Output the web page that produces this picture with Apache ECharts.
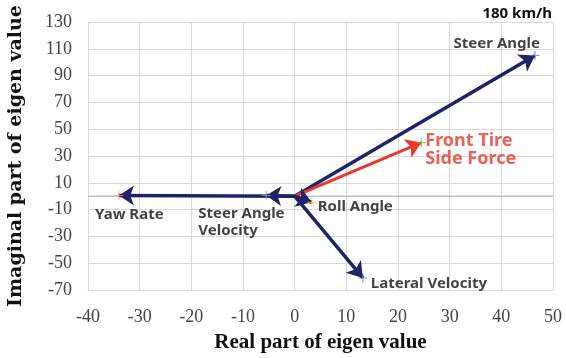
<!DOCTYPE html>
<html>
<head>
<meta charset="utf-8">
<script src="https://cdn.jsdelivr.net/npm/echarts@6/dist/echarts.min.js"></script>
<style>
  html, body { margin: 0; padding: 0; background: #fff; }
  #chart { width: 566px; height: 358px; }
</style>
</head>
<body>
<div id="chart"></div>
<script>
// Eigenvalues of each vibration mode at 180 km/h (real part, imaginary part)
const modeNames = ['Steer Angle', 'Front Tire\nSide Force', 'Yaw Rate', 'Steer Angle\nVelocity', 'Roll Angle', 'Lateral Velocity'];
const realParts = [46.5, 24.5, -34, -5.5, 3.3, 13.2];
const imagParts = [105, 40, 0.5, 0.5, -4.5, -61];

const xTicks = { min: -40, max: 50, step: 10 };
const yTicks = { min: -70, max: 130, step: 20 };

// Styling per mode: arrow colour, end marker colour, label colour and
// label anchor (pixel offset from the marker centre plus alignment)
const NAVY = '#1f2466';
const RED = '#e8392b';
const modeStyle = [
  { line: NAVY, mark: '#4a7fd0', text: '#111', dx: 5,   dy: -11.5, align: 'right' },
  { line: RED,  mark: '#6ab04c', text: RED,    dx: 4,   dy: 7,     align: 'left', big: true },
  { line: NAVY, mark: '#f0a060', text: '#111', dx: -24, dy: 19.5,  align: 'left' },
  { line: NAVY, mark: '#8aa0c0', text: '#111', dx: -68, dy: 26.5,  align: 'left' },
  { line: NAVY, mark: '#f2c94c', text: '#111', dx: 6,   dy: 5,     align: 'left' },
  { line: NAVY, mark: '#4a7fd0', text: '#111', dx: 8,   dy: 6,     align: 'left' }
];

const MARK_SIZE = 9;
const plus = 'path://M0,4.4h10v1.2h-10z M4.4,0h1.2v10h-1.2z';
const SANS = '"Noto Sans", "Liberation Sans", sans-serif';
const SERIF = '"Liberation Serif", serif';

const arrowData = modeNames.map((n, i) => ({
  coords: [[0, 0], [realParts[i], imagParts[i]]],
  lineStyle: { color: modeStyle[i].line, width: modeStyle[i].big ? 3 : 3.5, opacity: 1 }
}));

const pointData = modeNames.map((n, i) => {
  const s = modeStyle[i];
  return {
    name: n,
    value: [realParts[i], imagParts[i]],
    itemStyle: { color: s.mark },
    label: {
      show: true,
      formatter: '{b}',
      position: [s.dx + MARK_SIZE / 2, s.dy + MARK_SIZE / 2],
      align: s.align,
      verticalAlign: 'middle',
      color: s.text,
      fontFamily: SANS,
      fontWeight: 'bold',
      fontSize: s.big ? 18 : 15,
      lineHeight: s.big ? 18 : 17
    }
  };
});

const chart = echarts.init(document.getElementById('chart'), null, { renderer: 'canvas' });
chart.setOption({
  animation: false,
  backgroundColor: '#fff',
  grid: { left: 88, right: 13, top: 22, bottom: 68, containLabel: false, outerBoundsMode: 'none' },
  xAxis: {
    type: 'value',
    min: xTicks.min, max: xTicks.max, interval: xTicks.step,
    name: 'Real part of eigen value',
    nameLocation: 'middle',
    nameGap: 42,
    nameTextStyle: { fontFamily: SERIF, fontWeight: 'bold', fontSize: 21, color: '#111' },
    axisLine: { show: true, onZero: false, lineStyle: { color: '#d9d9d9' } },
    axisTick: { show: false },
    axisLabel: { fontFamily: SERIF, fontSize: 18, color: '#444', margin: 18 },
    splitLine: { show: true, lineStyle: { color: '#d9d9d9', width: 1 } }
  },
  yAxis: {
    type: 'value',
    min: yTicks.min, max: yTicks.max, interval: yTicks.step,
    name: 'Imaginal part of eigen value',
    nameLocation: 'middle',
    nameGap: 62,
    nameTextStyle: { fontFamily: '"DejaVu Serif", serif', fontWeight: 'bold', fontSize: 19, color: '#111' },
    axisLine: { show: false },
    axisTick: { show: false },
    axisLabel: { fontFamily: SERIF, fontSize: 18, color: '#444', margin: 16 },
    splitLine: { show: true, lineStyle: { color: '#d9d9d9', width: 1 } }
  },
  graphic: [
    {
      type: 'text',
      right: 14, top: 6,
      style: { text: '180 km/h', font: 'bold 15px "Noto Sans", sans-serif', fill: '#111' }
    }
  ],
  series: [
    {
      // real axis through the origin
      type: 'line',
      data: [[xTicks.min, 0], [xTicks.max, 0]],
      symbol: 'none',
      silent: true,
      lineStyle: { color: '#a6a6a6', width: 1 },
      z: 1
    },
    {
      type: 'lines',
      coordinateSystem: 'cartesian2d',
      symbol: ['none', 'arrow'],
      symbolSize: 15,
      data: arrowData,
      z: 3
    },
    {
      type: 'scatter',
      symbol: plus,
      symbolSize: MARK_SIZE,
      data: pointData,
      labelLayout: { hideOverlap: false },
      z: 4
    }
  ]
});
</script>
</body>
</html>
